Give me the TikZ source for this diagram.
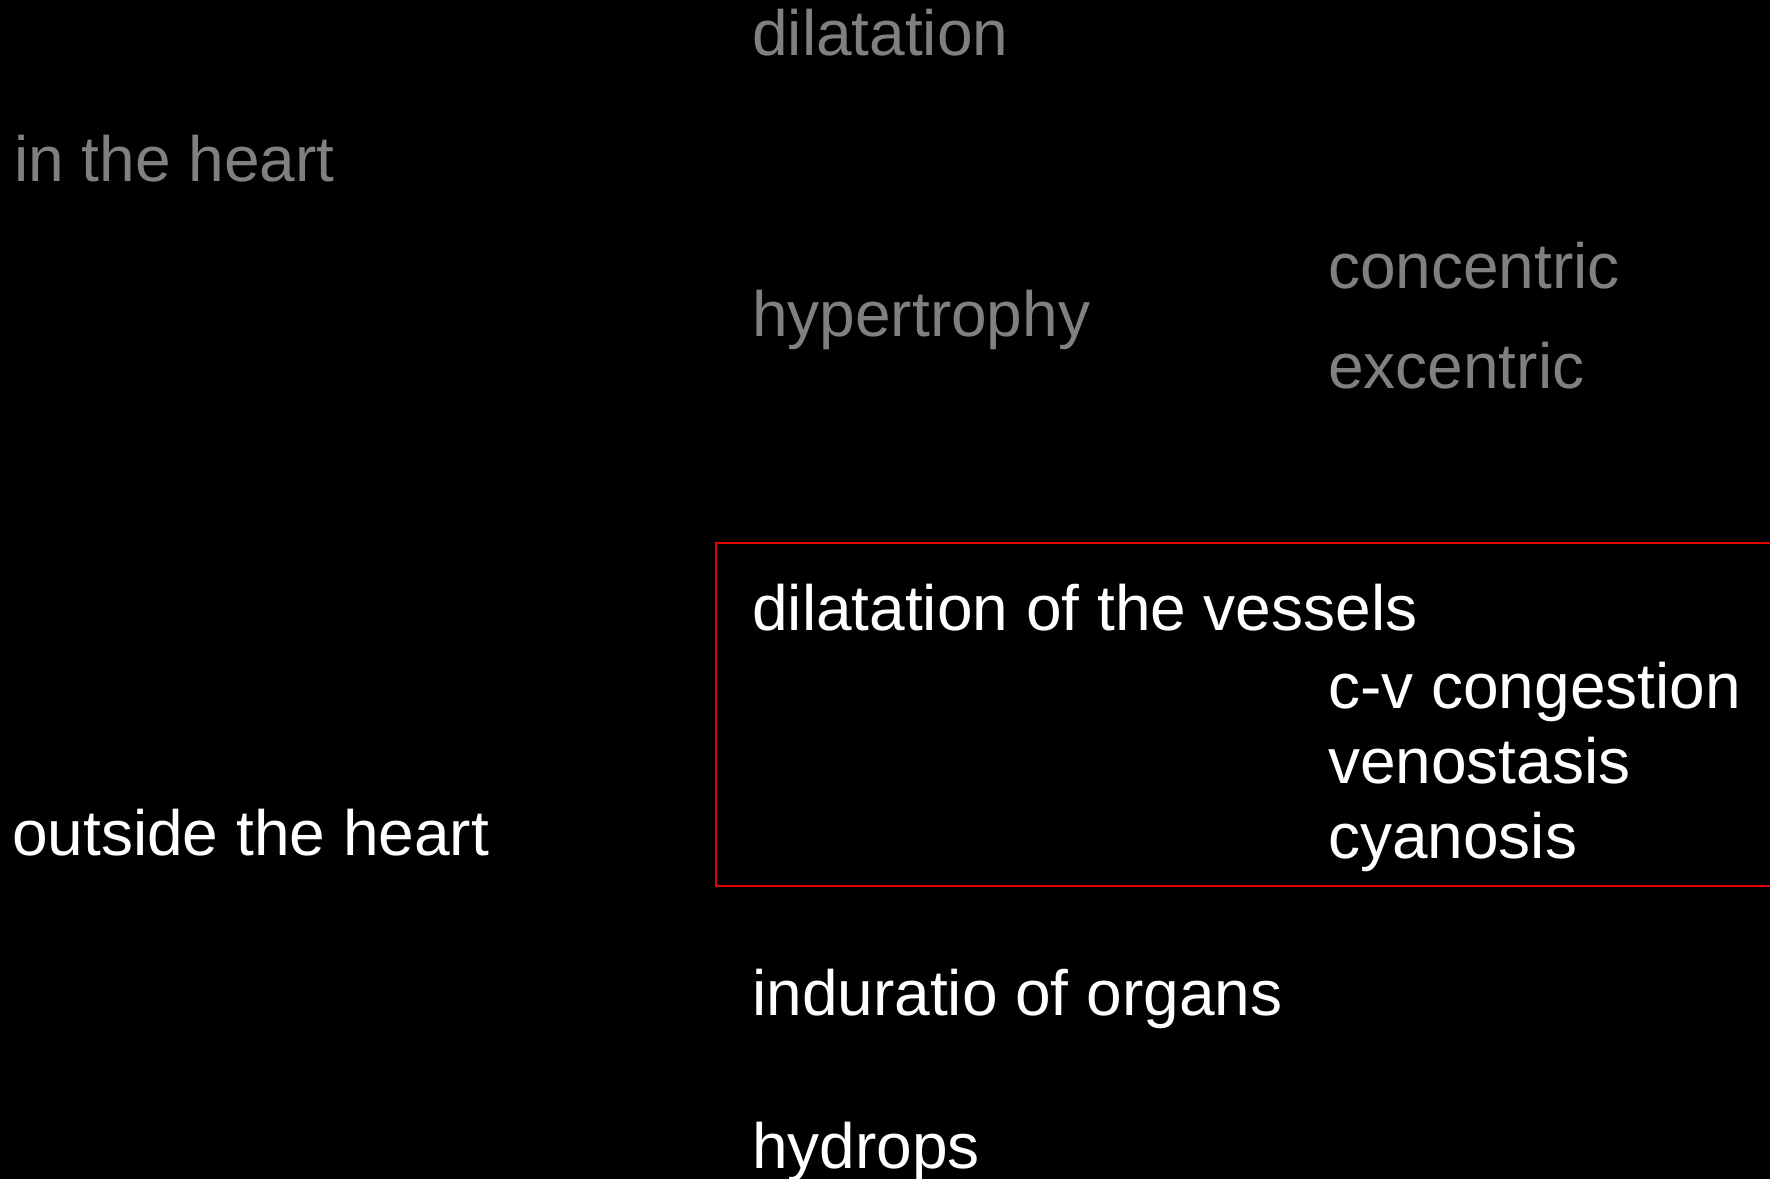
\documentclass[tikz,border=0pt]{standalone}
\usepackage{fontspec}
\setmainfont{Liberation Sans}
\definecolor{dimtext}{RGB}{128,128,128}
\definecolor{boxred}{RGB}{230,0,0}
\begin{document}
\begin{tikzpicture}[x=1pt,y=-1pt,
  lbl/.style={anchor=base west,inner sep=0pt,font=\fontsize{64}{77}\selectfont},
  dim/.style={lbl,text=dimtext},
  lit/.style={lbl,text=white}]
\fill[black] (0,0) rectangle (1770,1179);
\useasboundingbox (0,0) rectangle (1770,1179);
\node[dim] (dil) at (752,55) {dilatation};
\node[dim] (inh) at (14,181) {in the heart};
\node[dim] (hyp) at (752,336) {hypertrophy};
\node[dim] (con) at (1328,288) {concentric};
\node[dim] (exc) at (1328,388) {excentric};
\node[lit] (dov) at (752,630) {dilatation of the vessels};
\node[lit] (cvc) at (1328,708) {c-v congestion};
\node[lit] (ven) at (1328,783) {venostasis};
\node[lit] (cya) at (1328,858) {cyanosis};
\node[lit] (out) at (12,855) {outside the heart};
\node[lit] (ind) at (752,1015) {induratio of organs};
\node[lit] (hyd) at (752,1168) {hydrops};
\draw[boxred,line width=2pt] (1772,543) -- (716,543) -- (716,886) -- (1772,886);
\end{tikzpicture}
\end{document}
